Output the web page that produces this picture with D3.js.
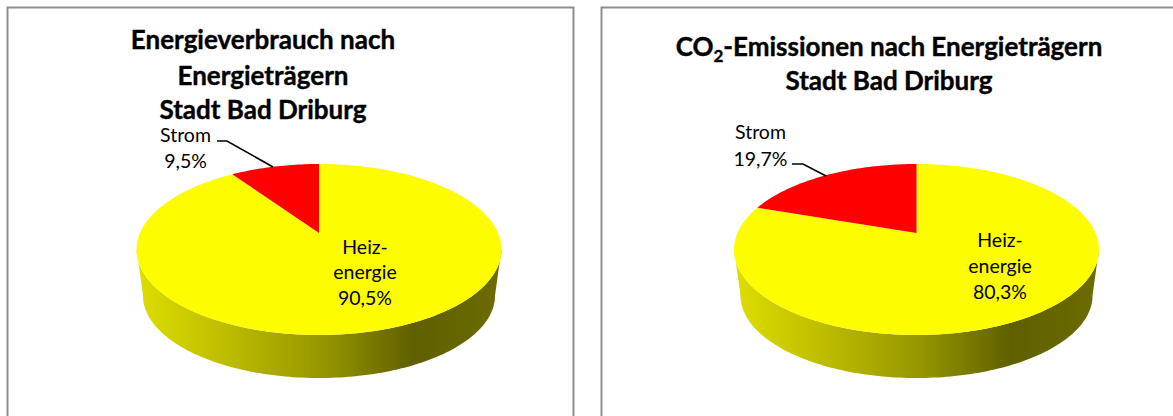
<!DOCTYPE html>
<html lang="de">
<head>
<meta charset="utf-8">
<title>Energieverbrauch und CO2-Emissionen Stadt Bad Driburg</title>
<script src="https://cdn.jsdelivr.net/npm/d3@7/dist/d3.min.js"></script>
<style>
  html, body { margin: 0; padding: 0; background: #fff; overflow: hidden; }
  svg { display: block; }
  text { fill: #000; }
  .title { font-family: Lato, "Open Sans", sans-serif; font-weight: 700; text-anchor: middle; stroke: #000; stroke-width: 0.4px; }
  .label { font-family: Lato, "Open Sans", sans-serif; font-size: 19.5px; text-anchor: middle; }
</style>
</head>
<body>
<svg id="chart" width="1173" height="416"></svg>
<script>
// Shares in percent, clockwise from twelve o'clock
const categories = ["Heizenergie", "Strom"];
const energyShares = [90.5, 9.5];
const co2Shares = [80.3, 19.7];

const energyTitle = [
  [{ t: "Energieverbrauch nach" }],
  [{ t: "Energieträgern" }],
  [{ t: "Stadt Bad Driburg" }]
];
const co2Title = [
  [{ t: "CO" }, { t: "2", sub: true }, { t: "-Emissionen nach Energieträgern" }],
  [{ t: "Stadt Bad Driburg" }]
];
const heatLabelLines = ["Heiz-", "energie"];

const decimalComma = d3.formatLocale({ decimal: ",", thousands: ".", grouping: [3], currency: ["", " €"] }).format(".1f");
const percent = v => decimalComma(v) + "%";

const svg = d3.select("#chart");
const defs = svg.append("defs");

// Rim shading runs left to right, darkest towards the lower right
const rimStops = [
  [0, "#dede00"], [0.25, "#bcbc00"], [0.52, "#949400"], [0.76, "#5f5f00"], [1, "#6c6c00"]
];
const grad = defs.append("linearGradient").attr("id", "rim");
grad.selectAll("stop").data(rimStops).join("stop")
  .attr("offset", d => d[0]).attr("stop-color", d => d[1]);

// Perspective mapping of the unit disc onto the tilted top face
const tilt = -0.193, halfWidth = 179, depthScale = 37.35, apexY = 233;
function projector(cx) {
  return (theta, r = 1, shrink = 1, drop = 0) => {
    const u = r * Math.sin(theta), v = -r * Math.cos(theta);
    const w = 1 + tilt * v;
    const px = halfWidth * u / w;
    const py = (depthScale * v + apexY) / w;
    const pivotY = 249.4;
    return [cx + px * shrink, pivotY + (py - pivotY) * shrink + drop];
  };
}
const line = d3.line();
const sweep = (a0, a1) => {
  const n = Math.max(2, Math.ceil(Math.abs(a1 - a0) / 0.02));
  return d3.range(n + 1).map(i => a0 + (a1 - a0) * i / n);
};

const pie = d3.pie().sort(null).value(d => d);
const rimShrink = 0.965, rimDrop = 46;
const sliceColors = d3.scaleOrdinal().domain(categories).range(["#fdfd00", "#fe0000"]);

function drawPie(cx, shares) {
  const project = projector(cx);
  const g = svg.append("g");
  const right = 101 * Math.PI / 180, left = 259 * Math.PI / 180;

  // Visible rim: lower edge of the disc's underside closed along the top face
  const rimPts = [
    ...sweep(right, left).map(a => project(a, 1, rimShrink, rimDrop)),
    ...sweep(left, right).map(a => project(a))
  ];
  g.append("path").attr("d", line(rimPts) + "Z").attr("fill", "url(#rim)");

  // Top face, one wedge per category
  g.selectAll("path.slice").data(pie(shares)).join("path")
    .attr("class", "slice")
    .attr("fill", (d, i) => sliceColors(categories[i]))
    .attr("d", d => line([project(0, 0), ...sweep(d.startAngle, d.endAngle).map(a => project(a))]) + "Z");
}

function drawTitle(lines, cx, baselines, size) {
  lines.forEach((parts, i) => {
    const txt = svg.append("text").attr("class", "title").attr("x", cx).attr("y", baselines[i]).style("font-size", size + "px");
    parts.forEach((p, j) => {
      const span = txt.append("tspan").text(p.t);
      if (p.sub) span.attr("dy", 6).style("font-size", "17px");
      else if (j > 0) span.attr("dy", -6);
    });
  });
}

function drawLines(texts, cx, baselines) {
  texts.forEach((t, i) => {
    svg.append("text").attr("class", "label").attr("x", cx).attr("y", baselines[i]).text(t);
  });
}

// Panel frames; the right one runs past the page edge, both past the bottom
svg.append("path").attr("fill", "none").attr("stroke", "#8f8f8f").attr("stroke-width", 2)
  .attr("d", "M7.5,420V7.5H573.5V420");
svg.append("path").attr("fill", "none").attr("stroke", "#8f8f8f").attr("stroke-width", 2)
  .attr("d", "M601.5,420V7.5H1180");

drawPie(319, energyShares);
drawPie(916.5, co2Shares);

drawTitle(energyTitle, 263, [49, 85, 119], 26);
drawTitle(co2Title, 889, [55.5, 90], 26);

// Left chart labels
drawLines([...heatLabelLines, percent(energyShares[0])], 365, [254, 279, 305]);
drawLines([categories[1], percent(energyShares[1])], 185.5, [142, 168]);
svg.append("polyline").attr("fill", "none").attr("stroke", "#000").attr("stroke-width", 1.6)
  .attr("points", "217,141 227,141 273,167");

// Right chart labels
drawLines([...heatLabelLines, percent(co2Shares[0])], 1000, [247, 273, 299]);
drawLines([categories[1], percent(co2Shares[1])], 760.5, [139, 166]);
svg.append("polyline").attr("fill", "none").attr("stroke", "#000").attr("stroke-width", 1.6)
  .attr("points", "792,164 803,164 826,176");
</script>
</body>
</html>
